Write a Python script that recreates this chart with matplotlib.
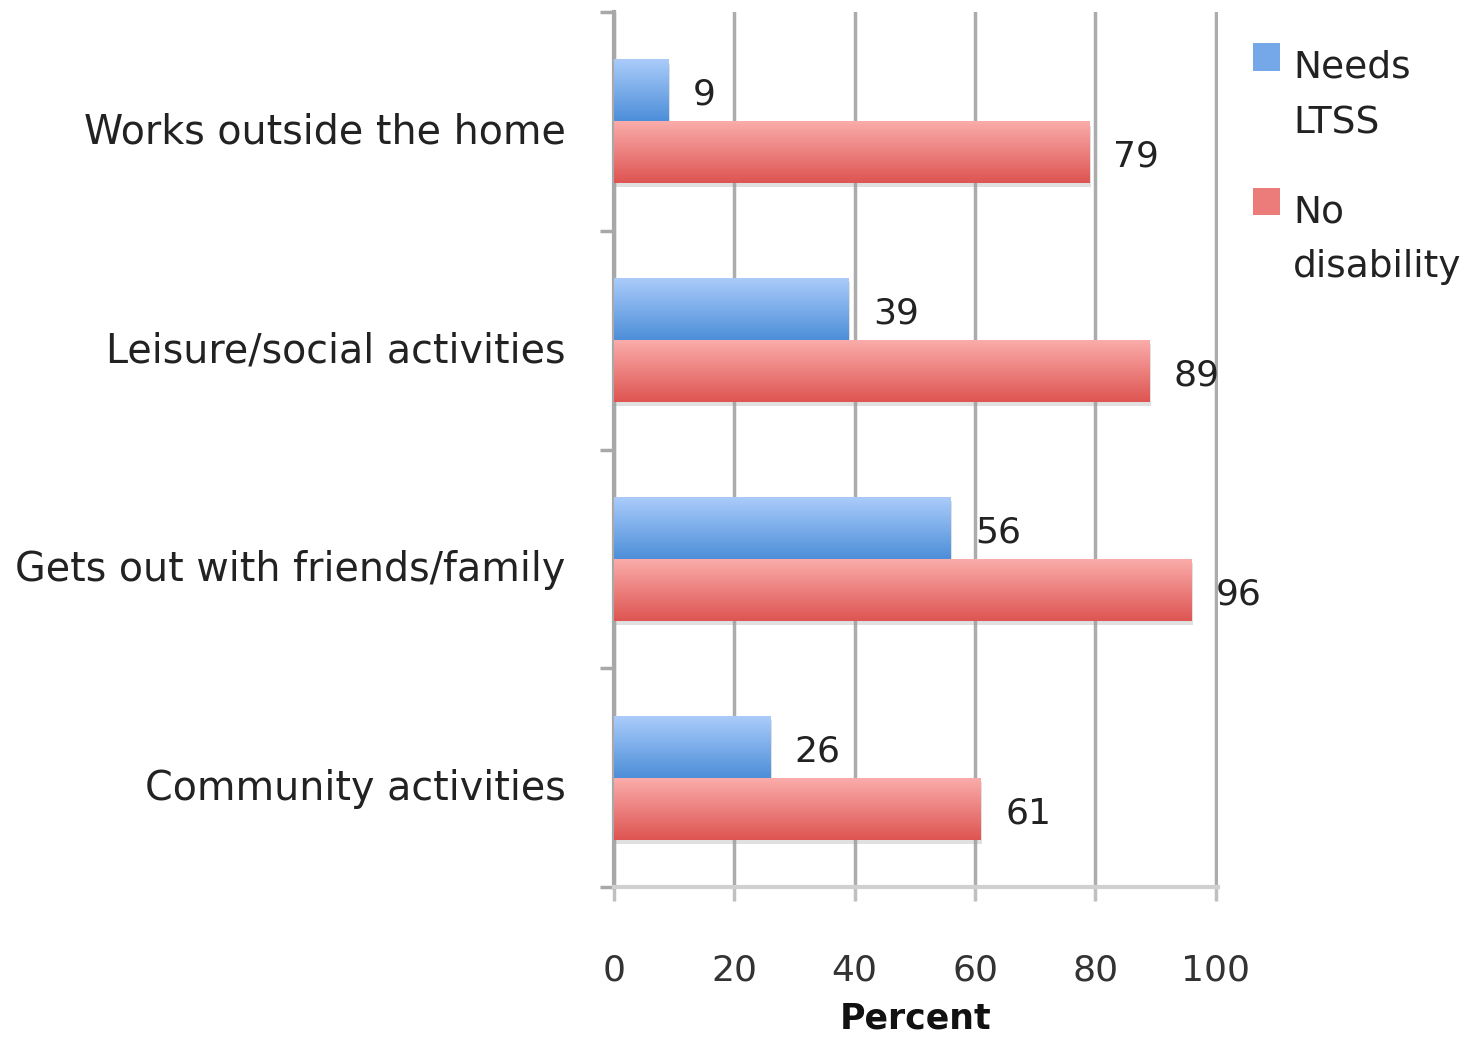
import numpy as np
import matplotlib.pyplot as plt
from matplotlib.colors import LinearSegmentedColormap
from matplotlib.patches import Rectangle
import matplotlib.patheffects as pe

# data
kategori = ["Works outside the home", "Leisure/social activities",
            "Gets out with friends/family", "Community activities"]
needs_ltss = [9, 39, 56, 26]
no_disability = [79, 89, 96, 61]
x_ticks = [0, 20, 40, 60, 80, 100]

plt.rcParams['font.family'] = ['DejaVu Sans']

fig = plt.figure(figsize=(14.8, 10.37), dpi=100)
ax = fig.add_axes([0.4149, 0.1446, 0.4081, 0.8438])

h = 0.283
y = np.arange(len(kategori))

biru = LinearSegmentedColormap.from_list("biru", ["#aacbfa", "#4d8fd9"])
merah = LinearSegmentedColormap.from_list("merah", ["#faacaa", "#de5552"])
grad = np.linspace(0, 1, 64).reshape(-1, 1)

shadow = [pe.SimplePatchShadow(offset=(1, -3), shadow_rgbFace="#999999", alpha=0.3), pe.Normal()]

bars1 = ax.barh(y - h / 2, needs_ltss, height=h, facecolor="none", edgecolor="none",
                zorder=3, path_effects=shadow)
bars2 = ax.barh(y + h / 2, no_disability, height=h, facecolor="none", edgecolor="none",
                zorder=3, path_effects=shadow)

for bars, cmap in ((bars1, biru), (bars2, merah)):
    for b in bars:
        x0, y0 = b.get_x(), b.get_y()
        w, hh = b.get_width(), b.get_height()
        im = ax.imshow(grad, cmap=cmap, aspect="auto", zorder=4,
                       extent=[x0, x0 + w, y0 + hh, y0], interpolation="bilinear")
        im.set_clip_path(b)

# label angka
for yy, v in zip(y - h / 2, needs_ltss):
    ax.text(v + 4, yy + 0.02, str(v), va="center", ha="left", fontsize=26, color="#222222")
for yy, v in zip(y + h / 2, no_disability):
    ax.text(v + 4, yy + 0.02, str(v), va="center", ha="left", fontsize=26, color="#222222")

ax.set_xlim(0, 100.4)
ax.set_ylim(len(kategori) - 0.5, -0.5)
ax.set_xticks(x_ticks)
ax.set_xticklabels([str(t) for t in x_ticks])
ax.set_yticks(y + 0.03)
ax.set_yticklabels(kategori)
ax.set_yticks(np.arange(len(kategori) + 1) - 0.5, minor=True)

ax.tick_params(axis="y", which="major", length=0, pad=35, labelsize=28.5, labelcolor="#222222")
ax.tick_params(axis="y", which="minor", length=10, width=2.5, color="#a8a8a8", direction="out")
ax.tick_params(axis="x", length=10, width=2.5, color="#c0c0c0", direction="out",
               pad=38, labelsize=26, labelcolor="#333333")

ax.grid(axis="x", color="#acacac", linewidth=2.5, zorder=1)
ax.set_axisbelow(True)

for s in ("top", "right"):
    ax.spines[s].set_visible(False)
ax.spines["left"].set_color("#a8a8a8")
ax.spines["left"].set_linewidth(3)
ax.spines["bottom"].set_color("#d0d0d0")
ax.spines["bottom"].set_linewidth(3)

ax.set_xlabel("Percent", fontsize=25, fontweight="bold", labelpad=10, color="#111111")

# legenda manual (kotak sejajar baris pertama)
ax.add_patch(Rectangle((1.058, 0.9326), 0.0447, 0.032, transform=ax.transAxes,
                       facecolor="#74a8e8", edgecolor="none", clip_on=False))
ax.add_patch(Rectangle((1.058, 0.768), 0.0447, 0.031, transform=ax.transAxes,
                       facecolor="#ec7c7a", edgecolor="none", clip_on=False))
for ty, teks in ((0.9257, "Needs"), (0.8617, "LTSS"), (0.76, "No"), (0.6971, "disability")):
    ax.text(1.124, ty, teks, transform=ax.transAxes, va="baseline", ha="left",
            fontsize=27, color="#222222")

plt.savefig("out.png", dpi=100)
